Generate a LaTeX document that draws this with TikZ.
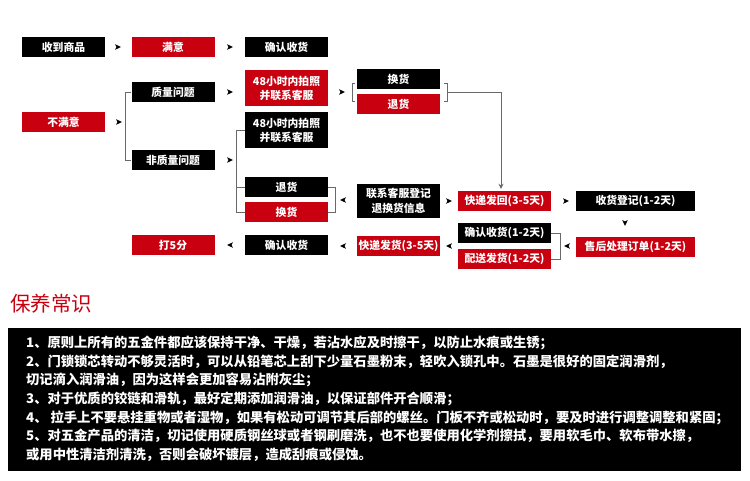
\documentclass[tikz,border=0pt]{standalone}
\usepackage{fontspec}
\setmainfont{Noto Sans CJK SC}
\usetikzlibrary{arrows.meta,calc}
\definecolor{rd}{RGB}{200,0,16}
\definecolor{lncol}{RGB}{105,105,105}
\begin{document}
\begin{tikzpicture}[x=1pt,y=-1pt,
  box/.style={inner sep=0pt, minimum width=83pt, minimum height=20pt, text=white,
    font=\bfseries\fontsize{10.8}{14}\selectfont, align=center},
  bk/.style={box, fill=black},
  rb/.style={box, fill=rd},
  ln/.style={draw=lncol, line width=0.8pt},
  pics/arrR/.style={code={\fill[black] (3,0) -- (-3,-2.8) -- (-1.6,0) -- (-3,2.8) -- cycle;}},
  pics/arrL/.style={code={\fill[black] (-3,0) -- (3,-2.8) -- (1.6,0) -- (3,2.8) -- cycle;}},
  pics/arrD/.style={code={\fill[black] (0,3) -- (-2.8,-3) -- (0,-1.6) -- (2.8,-3) -- cycle;}},
  txt/.style={anchor=base west, inner sep=0pt, text=white, font=\bfseries\fontsize{13.3}{16}\selectfont}
]
\useasboundingbox (0,0) rectangle (750,480);
\fill[white] (0,0) rectangle (750,480);

% flow boxes
\node[bk] (recv) at (63.5,47) {收到商品};
\node[rb] (ok) at (173,47) {满意};
\node[bk] (conf1) at (286.5,47) {确认收货};
\node[rb] (notok) at (63.5,122) {不满意};
\node[bk] (qual) at (173,92) {质量问题};
\node[bk] (nqual) at (173,160) {非质量问题};
\node[rb, minimum height=36pt] (p48a) at (286.5,88) {48小时内拍照\\并联系客服};
\node[bk, minimum height=36pt] (p48b) at (286.5,130) {48小时内拍照\\并联系客服};
\node[bk] (hh1) at (398.5,79) {换货};
\node[rb] (th1) at (398.5,104) {退货};
\node[bk] (th2) at (286.5,187) {退货};
\node[rb] (hh2) at (286.5,212) {换货};
\node[bk, minimum height=34pt, font=\bfseries\fontsize{10.8}{15}\selectfont] (lx) at (398.5,201) {联系客服登记\\退换货信息};
\node[rb, minimum width=93pt] (kfh) at (504.5,201) {快递发回(3-5天)};
\node[bk, minimum width=119pt] (shdj) at (635.5,201) {收货登记(1-2天)};
\node[rb, minimum width=119pt] (shcl) at (635.5,246.5) {售后处理订单(1-2天)};
\node[bk, minimum width=93pt] (qr2) at (504.5,233) {确认收货(1-2天)};
\node[rb, minimum width=93pt] (ps) at (504.5,259) {配送发货(1-2天)};
\node[rb] (kffh) at (398.5,246) {快递发货(3-5天)};
\node[bk] (conf2) at (286.5,245) {确认收货};
\node[rb] (five) at (173,245) {打5分};

% arrow marks
\pic (a1) at (118,47) {arrR};
\pic (a2) at (230,47) {arrR};
\pic (a3) at (119,122) {arrR};
\pic (a4) at (230,92) {arrR};
\pic (a5) at (342,92) {arrR};
\pic (a6) at (230,160) {arrR};
\pic (a7) at (343,200) {arrL};
\pic (a8) at (449,201) {arrR};
\pic (a9) at (566,201) {arrR};
\pic (a10) at (625,223) {arrD};
\pic (a11) at (567,246) {arrL};
\pic (a12) at (449,246) {arrL};
\pic (a13) at (343,246) {arrL};
\pic (a14) at (230,245) {arrL};

% connectors / brackets
\draw[ln] (qual.west) -- ++(-6,0) coordinate (v1) -- (v1 |- nqual.west) -- (nqual.west);
\draw[ln] (p48b.west) -- ++(-8,0) coordinate (v2) -- (v2 |- hh2.west) -- (hh2.west);
\draw[ln] (th2.west) -- (v2 |- th2.west);
\draw[ln] (th2.east) -- ++(7,0) coordinate (v3) -- (v3 |- hh2.east) -- (hh2.east);
\coordinate (bl) at (355,83);
\coordinate (br) at (444,83);
\draw[ln] (bl) -- ++(-3,0) -- ++(0,18) -- ++(3,0);
\draw[ln] (br) -- ++(3,0) -- ++(0,18) -- ++(-3,0);
\coordinate (brm) at (447,92);
\draw[ln, -{Stealth[length=5pt,width=5pt]}, shorten >=2pt] (brm) -| ([xshift=-3.5pt]kfh.north);
\draw[ln] (qr2.east) -- ++(9,0) coordinate (v5) -- (v5 |- ps.east) -- (ps.east);

% care section
\node[anchor=west, inner sep=0pt, text=rd, font=\fontsize{20.5}{24}\selectfont] (title) at (10,304) {保养常识};
\node[fill=black, anchor=north west, inner sep=0pt, minimum width=733pt, minimum height=143pt] (panel) at (8,328) {};
\node[txt] (t1) at (26,347) {1、原则上所有的五金件都应该保持干净、干燥，若沾水应及时擦干，以防止水痕或生锈；};
\node[txt] (t2) at (26,366) {2、门锁锁芯转动不够灵活时，可以从铅笔芯上刮下少量石墨粉末，轻吹入锁孔中。石墨是很好的固定润滑剂，};
\node[txt] (t3) at (26,384) {切记滴入润滑油，因为这样会更加容易沾附灰尘；};
\node[txt] (t4) at (26,403) {3、对于优质的铰链和滑轨，最好定期添加润滑油，以保证部件开合顺滑；};
\node[txt] (t5) at (26,422) {4、 拉手上不要悬挂重物或者湿物，如果有松动可调节其后部的螺丝。门板不齐或松动时，要及时进行调整调整和紧固；};
\node[txt] (t6) at (26,440) {5、对五金产品的清洁，切记使用硬质钢丝球或者钢刷磨洗，也不也要使用化学剂擦拭，要用软毛巾、软布带水擦，};
\node[txt] (t7) at (26,459) {或用中性清洁剂清洗，否则会破坏镀层，造成刮痕或侵蚀。};
\end{tikzpicture}
\end{document}
